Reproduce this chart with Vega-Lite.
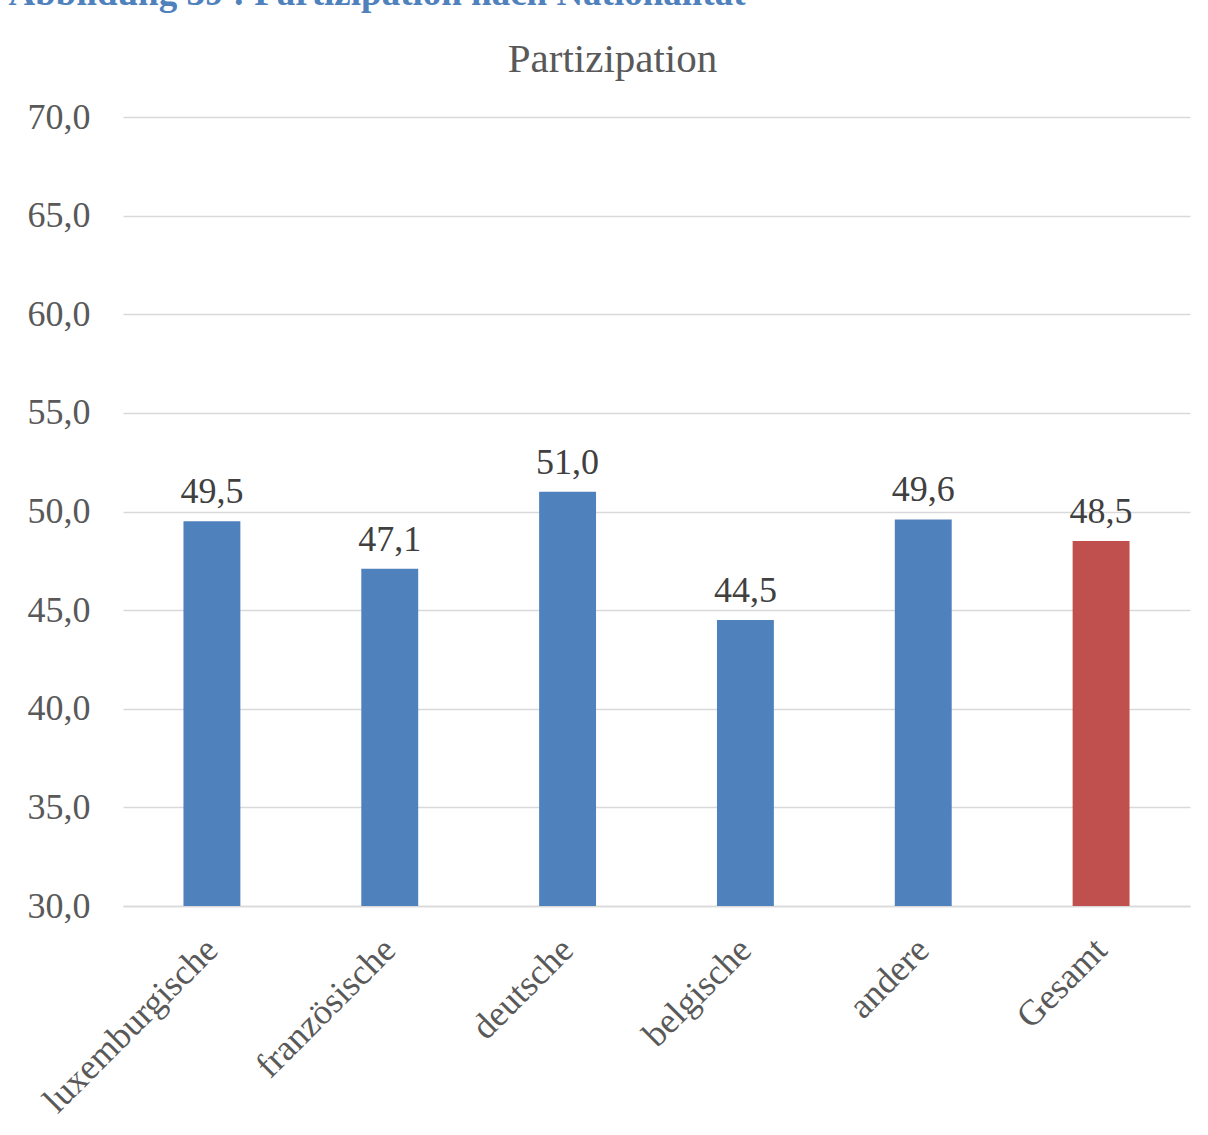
{
  "$schema": "https://vega.github.io/schema/vega-lite/v6.json",
  "autosize": {"type": "none"},
  "padding": {"left": 123, "top": 117, "right": 18, "bottom": 229},
  "width": 1067,
  "height": 789,
  "background": "white",
  "config": {
    "view": {"stroke": null},
    "locale": {"number": {"decimal": ",", "thousands": ".", "grouping": [3], "currency": ["", " €"]}},
    "font": "Liberation Serif"
  },
  "data": {
    "values": [
      {"nat": "luxemburgische", "wert": 49.5},
      {"nat": "französische", "wert": 47.1},
      {"nat": "deutsche", "wert": 51.0},
      {"nat": "belgische", "wert": 44.5},
      {"nat": "andere", "wert": 49.6},
      {"nat": "Gesamt", "wert": 48.5}
    ]
  },
  "encoding": {
    "x": {
      "field": "nat",
      "type": "nominal",
      "sort": null,
      "scale": {"paddingInner": 0.68, "paddingOuter": 0.34},
      "axis": {
        "labelAngle": -45,
        "labelFont": "Liberation Serif",
        "labelFontSize": 36,
        "labelColor": "#595959",
        "labelPadding": 26,
        "labelOffset": -12,
        "labelLimit": 0,
        "ticks": false,
        "domain": true,
        "domainColor": "#d9d9d9",
        "domainWidth": 1.5,
        "title": "Partizipation",
        "titleFont": "Liberation Serif",
        "titleFontSize": 41,
        "titleFontWeight": "normal",
        "titleColor": "#595959",
        "titleAlign": "center",
        "titleAnchor": null,
        "titleBaseline": "alphabetic",
        "titleX": 489,
        "titleY": -835
      }
    },
    "y": {
      "field": "wert",
      "type": "quantitative",
      "scale": {"domain": [30, 70], "zero": false, "nice": false},
      "axis": {
        "values": [30, 35, 40, 45, 50, 55, 60, 65, 70],
        "format": ".1f",
        "domain": false,
        "ticks": false,
        "grid": true,
        "gridColor": "#d9d9d9",
        "gridWidth": 1.5,
        "labelFont": "Liberation Serif",
        "labelFontSize": 36,
        "labelColor": "#595959",
        "labelPadding": 33,
        "title": "Abbildung 39 : Partizipation nach Nationalität",
        "titleAngle": 0,
        "titleAlign": "left",
        "titleBaseline": "alphabetic",
        "titleX": -115,
        "titleY": -113,
        "titleFont": "Liberation Serif",
        "titleFontWeight": "bold",
        "titleFontSize": 37,
        "titleColor": "#4f81bd"
      }
    }
  },
  "layer": [
    {
      "mark": {"type": "bar"},
      "encoding": {
        "y2": {"datum": 30},
        "color": {
          "condition": {"test": "datum.nat === 'Gesamt'", "value": "#c0504d"},
          "value": "#4f81bd"
        }
      }
    },
    {
      "mark": {
        "type": "text",
        "dy": -18,
        "baseline": "alphabetic",
        "font": "Liberation Serif",
        "fontSize": 36,
        "color": "#404040"
      },
      "encoding": {
        "text": {"field": "wert", "type": "quantitative", "format": ".1f"}
      }
    }
  ]
}
